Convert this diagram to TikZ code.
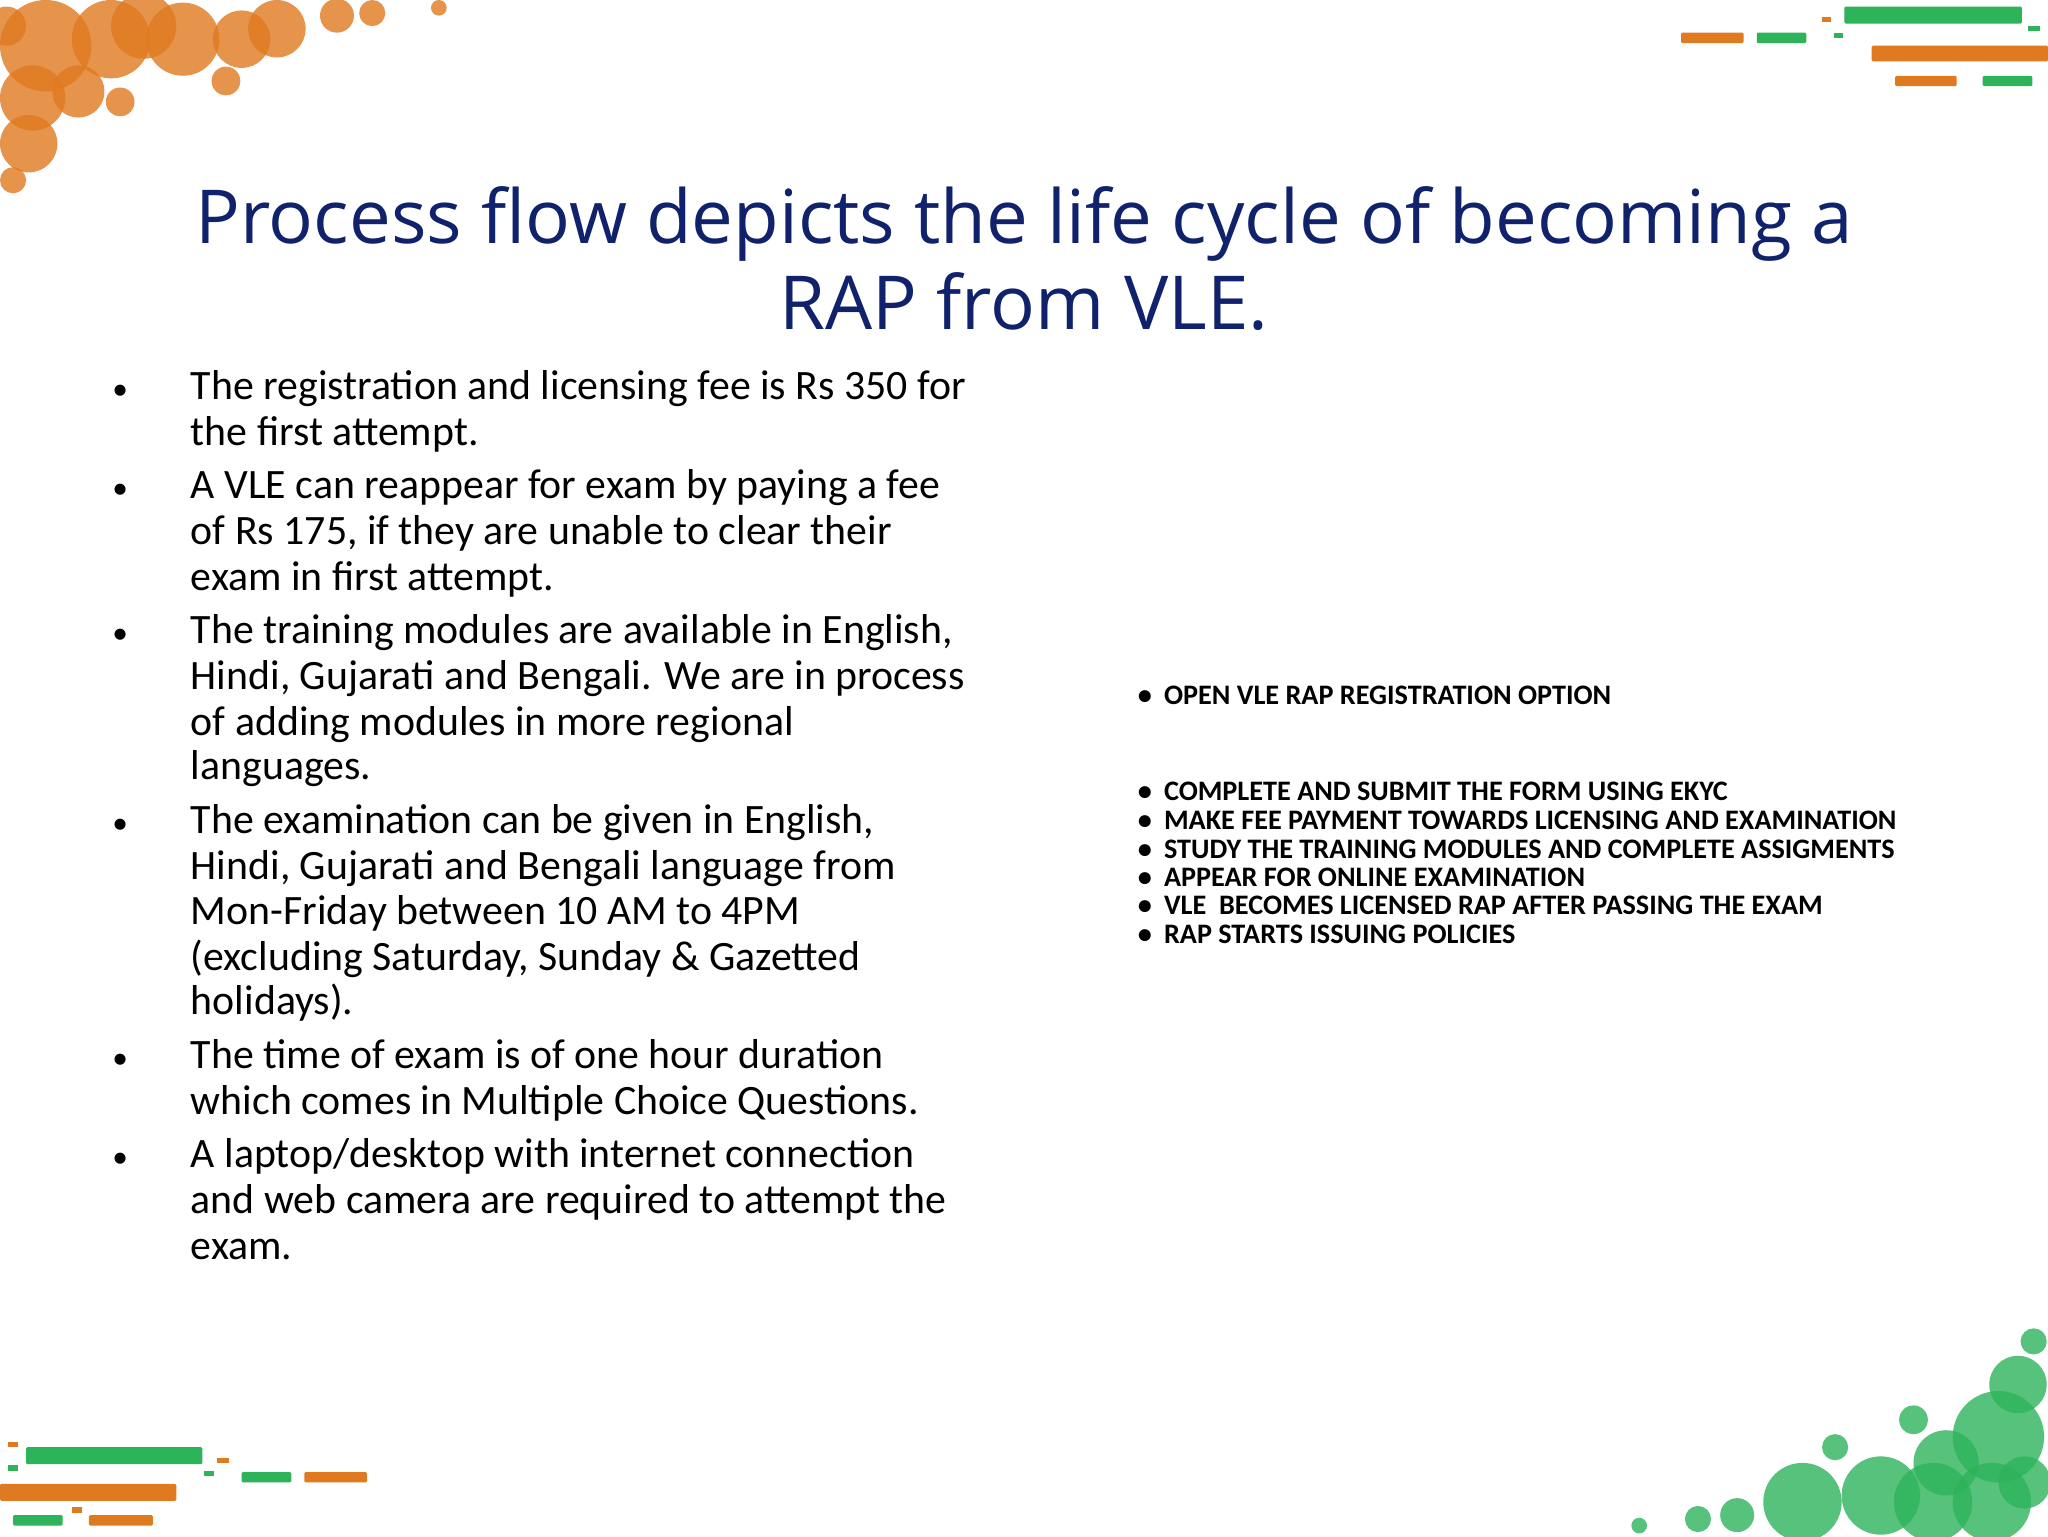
\documentclass[tikz,border=0pt]{standalone}
\usepackage{fontspec}
\setmainfont{Carlito}
\newfontfamily\titlefont{Open Sans}
\definecolor{navy}{HTML}{10226B}
\definecolor{org}{HTML}{E07A20}
\definecolor{grn}{HTML}{2DB35A}
\begin{document}
\begin{tikzpicture}[x=1pt,y=-1pt,
  oc/.style={fill=org,opacity=0.8},
  gc/.style={fill=grn,opacity=0.8},
  bar/.style={rounded corners=1pt},
  bul/.style={anchor=base west,inner sep=0pt,font=\fontsize{32}{35}\selectfont},
  rb/.style={anchor=base west,inner sep=0pt,font=\fontsize{21.6}{22}\selectfont\bfseries}]
\useasboundingbox[fill=white] (0,0) rectangle (1568,1176);
% top-left circles
\foreach \x/\y/\r in {35/35/35,85/30/30,140/30/28,110/20/25,185/30/22,212/22/22,258/12/13,285/10/10,336/6/6,173/62/11,92/78/11,22/110/22,10/138/10,25/75/25,60/70/20,5/20/15}
  \fill[oc] (\x,\y) circle (\r);
% top-right bars
\fill[grn,bar] (1412,5) rectangle (1548,18);
\fill[org,bar] (1287,25) rectangle (1335,33);
\fill[grn,bar] (1345,25) rectangle (1383,33);
\fill[org,bar] (1433,35) rectangle (1568,47);
\fill[org,bar] (1451,58) rectangle (1498,66);
\fill[grn,bar] (1518,58) rectangle (1556,66);
\fill[org] (1395,13) rectangle (1402,17);
\fill[grn] (1404,25) rectangle (1411,29);
\fill[grn] (1553,20) rectangle (1562,24);
% bottom-left bars
\fill[grn,bar] (20,1108) rectangle (155,1121);
\fill[org,bar] (0,1136) rectangle (135,1149);
\fill[grn,bar] (10,1160) rectangle (48,1168);
\fill[org,bar] (68,1160) rectangle (117,1168);
\fill[grn,bar] (185,1127) rectangle (223,1135);
\fill[org,bar] (233,1127) rectangle (281,1135);
\fill[org] (6,1104) rectangle (14,1108);
\fill[grn] (6,1122) rectangle (14,1126);
\fill[org] (166,1116) rectangle (175,1120);
\fill[grn] (156,1126) rectangle (164,1130);
\fill[org] (55,1154) rectangle (63,1158);
% bottom-right circles
\foreach \x/\y/\r in {1557/1027/10,1545/1060/22,1530/1100/35,1490/1120/25,1480/1150/30,1440/1145/30,1405/1108/10,1380/1150/30,1330/1160/13,1300/1163/10,1255/1168/6,1525/1150/30,1465/1087/11,1550/1135/20}
  \fill[gc] (\x,\y) circle (\r);
% title
\node[font=\titlefont\fontsize{57}{66}\selectfont,text=navy,align=center] (title) at (784,198)
  {Process flow depicts the life cycle of becoming a\\RAP from VLE.};
% left bullets
\foreach \y in {306,382,493,638,818,894} \node[anchor=base,font=\fontsize{24}{24}\selectfont] at (92,\y) {•};
\foreach \y/\t [count=\i] in {
 306/The registration and licensing fee is Rs 350 for,
 341/the first attempt.,
 382/A VLE can reappear for exam by paying a fee,
 417/{of Rs 175, if they are unable to clear their},
 452/exam in first attempt.,
 493/{The training modules are available in English,},
 528/{Hindi, Gujarati and Bengali. We are in process},
 563/of adding modules in more regional,
 597/languages.,
 638/{The examination can be given in English,},
 673/{Hindi, Gujarati and Bengali language from},
 708/Mon-Friday between 10 AM to 4PM,
 743/{(excluding Saturday, Sunday \& Gazetted},
 777/holidays).,
 818/The time of exam is of one hour duration,
 853/which comes in Multiple Choice Questions.,
 894/{A laptop/desktop with internet connection},
 929/and web camera are required to attempt the,
 964/exam.}
  \node[bul] (l\i) at (146,\y) {\t};
% right list
\foreach \y/\t [count=\i] in {539/OPEN VLE RAP REGISTRATION OPTION,613/COMPLETE AND SUBMIT THE FORM USING EKYC,635/MAKE FEE PAYMENT TOWARDS LICENSING AND EXAMINATION,657/STUDY THE TRAINING MODULES AND COMPLETE ASSIGMENTS,679/APPEAR FOR ONLINE EXAMINATION,700/VLE\ \ BECOMES LICENSED RAP AFTER PASSING THE EXAM,722/RAP STARTS ISSUING POLICIES} {
  \node[rb] at (871,\y) {•};
  \node[rb] (r\i) at (891,\y) {\t};
}
\end{tikzpicture}
\end{document}
